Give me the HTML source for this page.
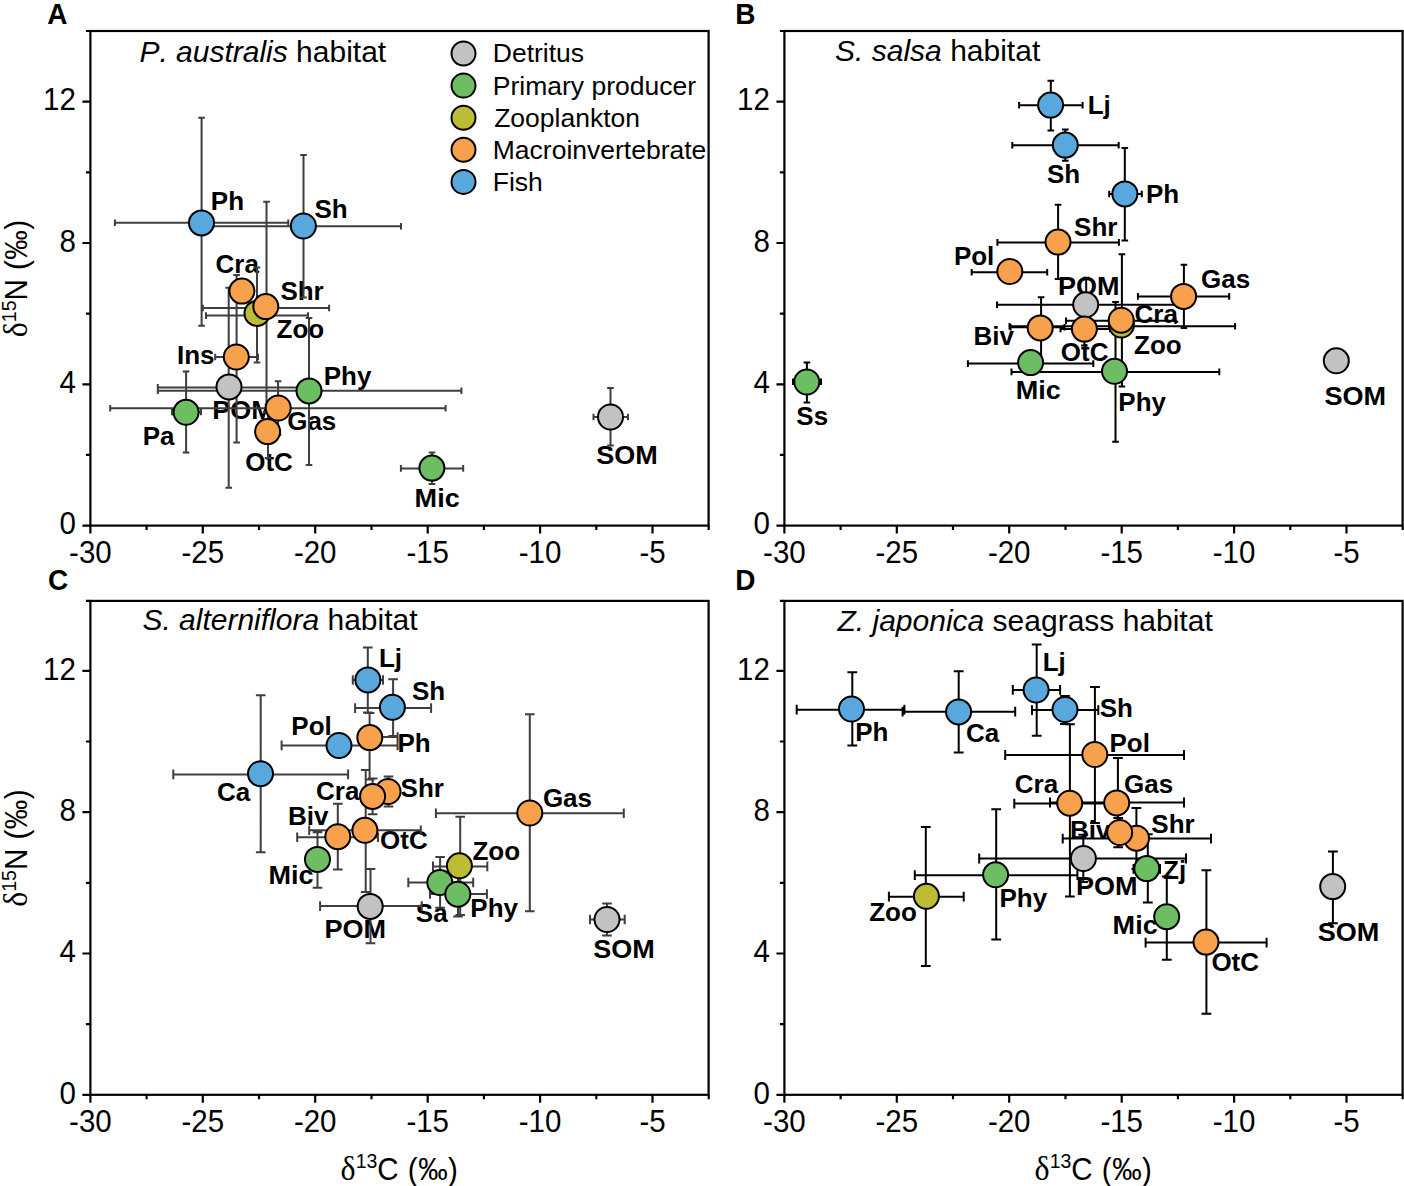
<!DOCTYPE html>
<html><head><meta charset="utf-8"><style>html,body{margin:0;padding:0;background:#fff;}svg{display:block;font-kerning:none;}</style></head>
<body>
<svg width="1404" height="1186" viewBox="0 0 1404 1186">
<rect width="100%" height="100%" fill="#fff"/>
<g stroke="#000" stroke-width="2.2" fill="none">
<rect x="90.4" y="31" width="618.2" height="494.6"/>
<path d="M90.4 525.6v8 M146.6 525.6v4.5 M202.8 525.6v8 M259 525.6v4.5 M315.2 525.6v8 M371.5 525.6v4.5 M427.7 525.6v8 M483.9 525.6v4.5 M540.1 525.6v8 M596.3 525.6v4.5 M652.5 525.6v8 M708.7 525.6v4.5 M90.4 525.6h-8 M90.4 454.9h-4.5 M90.4 384.3h-8 M90.4 313.6h-4.5 M90.4 243h-8 M90.4 172.3h-4.5 M90.4 101.6h-8 M90.4 31h-4.5"/>
</g>
<g font-family="Liberation Sans, sans-serif" font-size="29.5" fill="#000">
<text transform="translate(90.4,562.6) scale(1,1.055)" text-anchor="middle">-30</text>
<text transform="translate(202.8,562.6) scale(1,1.055)" text-anchor="middle">-25</text>
<text transform="translate(315.2,562.6) scale(1,1.055)" text-anchor="middle">-20</text>
<text transform="translate(427.7,562.6) scale(1,1.055)" text-anchor="middle">-15</text>
<text transform="translate(540.1,562.6) scale(1,1.055)" text-anchor="middle">-10</text>
<text transform="translate(652.5,562.6) scale(1,1.055)" text-anchor="middle">-5</text>
<text transform="translate(75.9,534.3) scale(1,1.055)" text-anchor="end">0</text>
<text transform="translate(75.9,393) scale(1,1.055)" text-anchor="end">4</text>
<text transform="translate(75.9,251.7) scale(1,1.055)" text-anchor="end">8</text>
<text transform="translate(75.9,110.3) scale(1,1.055)" text-anchor="end">12</text>
</g>
<text transform="translate(27,278.3) rotate(-90) scale(1,1.05)" text-anchor="middle" font-family="Liberation Sans" font-size="29.5"><tspan font-family="Liberation Serif" font-size="32">δ</tspan><tspan font-family="Liberation Sans" font-size="19.5" dy="-10.8">15</tspan><tspan font-family="Liberation Sans" dy="10.8" letter-spacing="0.5">N (‰)</tspan></text>
<text transform="translate(47.3,24) scale(1,1.06)" font-family="Liberation Sans, sans-serif" font-weight="bold" font-size="28">A</text>
<text x="139.4" y="62.1" font-family="Liberation Sans, sans-serif" font-size="30"><tspan font-style="italic">P. australis</tspan> habitat</text>
<g font-family="Liberation Sans, sans-serif" font-weight="bold" font-size="26" fill="#000">
<text x="210.8" y="209.9">Ph</text>
<text x="314.4" y="218">Sh</text>
<text x="215.5" y="273.3">Cra</text>
<text x="276.6" y="338.1">Zoo</text>
<text x="280.4" y="300.2">Shr</text>
<text x="177" y="363.7">Ins</text>
<text x="212.2" y="419.3" textLength="61.6" lengthAdjust="spacingAndGlyphs">POM</text>
<text x="323.7" y="385.3">Phy</text>
<text x="142.7" y="445.2">Pa</text>
<text x="245.2" y="470.6">OtC</text>
<text x="287.2" y="429.8">Gas</text>
<text x="414.6" y="507.4" textLength="45.1" lengthAdjust="spacingAndGlyphs">Mic</text>
<text x="596.3" y="463.9" textLength="61.6" lengthAdjust="spacingAndGlyphs">SOM</text>
</g>
<path d="M114.9 222.7H288.3M114.9 219.4v6.6M288.3 219.4v6.6 M201.6 117.8V325.8 M198.3 117.8h6.6 M198.3 325.8h6.6 M205.8 226.2H401M205.8 222.9v6.6M401 222.9v6.6 M303.5 155.1V297.4 M300.2 155.1h6.6 M300.2 297.4h6.6 M206 315.6H308M206 312.3v6.6M308 312.3v6.6 M257 267.6V362.5 M253.7 267.6h6.6 M253.7 362.5h6.6 M202.8 308H329.1M202.8 304.7v6.6M329.1 304.7v6.6 M266.5 201.8V412 M263.2 201.8h6.6 M263.2 412h6.6 M215.2 357H258M215.2 353.7v6.6M258 353.7v6.6 M236.6 275V442.4 M233.3 275h6.6 M233.3 442.4h6.6 M157.8 387.4H300M157.8 384.1v6.6M300 384.1v6.6 M228.7 287.8V487.8 M225.4 287.8h6.6 M225.4 487.8h6.6 M157.8 390.8H461.4M157.8 387.5v6.6M461.4 387.5v6.6 M309 318V464.9 M305.7 318h6.6 M305.7 464.9h6.6 M172 412H201M172 408.7v6.6M201 408.7v6.6 M186.1 371.5V452.6 M182.8 371.5h6.6 M182.8 452.6h6.6 M268 405V458 M264.7 405h6.6 M264.7 458h6.6 M110.2 408.2H445.6M110.2 404.9v6.6M445.6 404.9v6.6 M278.1 381.3V434.7 M274.8 381.3h6.6 M274.8 434.7h6.6 M400.9 468.4H463.2M400.9 465.1v6.6M463.2 465.1v6.6 M432 452.4V484 M428.7 452.4h6.6 M428.7 484h6.6 M593.5 417H628M593.5 413.7v6.6M628 413.7v6.6 M610.5 388V445.4 M607.2 388h6.6 M607.2 445.4h6.6" stroke="#3e3e3e" stroke-width="2" fill="none"/>
<g stroke="#000" stroke-width="2">
<circle cx="201.5" cy="222.9" r="12.5" fill="#58a8de"/>
<circle cx="303.4" cy="226" r="12.5" fill="#58a8de"/>
<circle cx="241.9" cy="291.1" r="12.5" fill="#f8a14c"/>
<circle cx="257" cy="313.4" r="12.5" fill="#bcbd34"/>
<circle cx="265.8" cy="306.6" r="12.5" fill="#f8a14c"/>
<circle cx="236.3" cy="357" r="12.5" fill="#f8a14c"/>
<circle cx="229" cy="386.9" r="12.5" fill="#c2c2c2"/>
<circle cx="309" cy="390.9" r="12.5" fill="#6dbd62"/>
<circle cx="186.1" cy="412.3" r="12.5" fill="#6dbd62"/>
<circle cx="267.6" cy="431.6" r="12.5" fill="#f8a14c"/>
<circle cx="278.2" cy="408" r="12.5" fill="#f8a14c"/>
<circle cx="431.9" cy="468.1" r="12.5" fill="#6dbd62"/>
<circle cx="610.5" cy="417" r="12.5" fill="#c2c2c2"/>
</g>
<g stroke="#000" stroke-width="2.2" fill="none">
<rect x="784.4" y="31" width="618.2" height="494.6"/>
<path d="M784.4 525.6v8 M840.6 525.6v4.5 M896.8 525.6v8 M953 525.6v4.5 M1009.2 525.6v8 M1065.5 525.6v4.5 M1121.7 525.6v8 M1177.9 525.6v4.5 M1234.1 525.6v8 M1290.3 525.6v4.5 M1346.5 525.6v8 M1402.7 525.6v4.5 M784.4 525.6h-8 M784.4 454.9h-4.5 M784.4 384.3h-8 M784.4 313.6h-4.5 M784.4 243h-8 M784.4 172.3h-4.5 M784.4 101.6h-8 M784.4 31h-4.5"/>
</g>
<g font-family="Liberation Sans, sans-serif" font-size="29.5" fill="#000">
<text transform="translate(784.4,562.6) scale(1,1.055)" text-anchor="middle">-30</text>
<text transform="translate(896.8,562.6) scale(1,1.055)" text-anchor="middle">-25</text>
<text transform="translate(1009.2,562.6) scale(1,1.055)" text-anchor="middle">-20</text>
<text transform="translate(1121.7,562.6) scale(1,1.055)" text-anchor="middle">-15</text>
<text transform="translate(1234.1,562.6) scale(1,1.055)" text-anchor="middle">-10</text>
<text transform="translate(1346.5,562.6) scale(1,1.055)" text-anchor="middle">-5</text>
<text transform="translate(769.9,534.3) scale(1,1.055)" text-anchor="end">0</text>
<text transform="translate(769.9,393) scale(1,1.055)" text-anchor="end">4</text>
<text transform="translate(769.9,251.7) scale(1,1.055)" text-anchor="end">8</text>
<text transform="translate(769.9,110.3) scale(1,1.055)" text-anchor="end">12</text>
</g>
<text transform="translate(735.3,24) scale(1,1.06)" font-family="Liberation Sans, sans-serif" font-weight="bold" font-size="28">B</text>
<text x="835.1" y="61.3" font-family="Liberation Sans, sans-serif" font-size="30"><tspan font-style="italic">S. salsa</tspan> habitat</text>
<g font-family="Liberation Sans, sans-serif" font-weight="bold" font-size="26" fill="#000">
<text x="1087.7" y="114.1">Lj</text>
<text x="1047" y="182.6">Sh</text>
<text x="1146" y="203">Ph</text>
<text x="1074.1" y="235.6">Shr</text>
<text x="953.9" y="265.2">Pol</text>
<text x="1058" y="295.3" textLength="61.6" lengthAdjust="spacingAndGlyphs">POM</text>
<text x="1201" y="288">Gas</text>
<text x="1134.1" y="354.1">Zoo</text>
<text x="1134.5" y="322.6">Cra</text>
<text x="973.6" y="345.4">Biv</text>
<text x="1060.8" y="361.4">OtC</text>
<text x="1015.8" y="398.5" textLength="45.1" lengthAdjust="spacingAndGlyphs">Mic</text>
<text x="1118.3" y="411">Phy</text>
<text x="796.3" y="424.5">Ss</text>
<text x="1324.5" y="404.5" textLength="61.6" lengthAdjust="spacingAndGlyphs">SOM</text>
</g>
<path d="M1019.1 105.3H1082.6M1019.1 102v6.6M1082.6 102v6.6 M1050.8 80.8V130.5 M1047.5 80.8h6.6 M1047.5 130.5h6.6 M1012.3 145.3H1118.7M1012.3 142v6.6M1118.7 142v6.6 M1065.3 129.5V160.8 M1062 129.5h6.6 M1062 160.8h6.6 M1109.2 194H1141.8M1109.2 190.7v6.6M1141.8 190.7v6.6 M1124.8 148V240.6 M1121.5 148h6.6 M1121.5 240.6h6.6 M997.4 242.4H1118.9M997.4 239.1v6.6M1118.9 239.1v6.6 M1058.1 204.8V278.9 M1054.8 204.8h6.6 M1054.8 278.9h6.6 M971.7 272.2H1047.2M971.7 268.9v6.6M1047.2 268.9v6.6 M997 304.8H1177M997 301.5v6.6M1177 301.5v6.6 M1086.2 277.7V331 M1082.9 277.7h6.6 M1082.9 331h6.6 M1137.9 296.4H1229.2M1137.9 293.1v6.6M1229.2 293.1v6.6 M1183.9 264.8V328 M1180.6 264.8h6.6 M1180.6 328h6.6 M1009.5 326.2H1235.1M1009.5 322.9v6.6M1235.1 322.9v6.6 M1066 320.8H1175.5M1066 317.5v6.6M1175.5 317.5v6.6 M1121.9 254.3V386.5 M1118.6 254.3h6.6 M1118.6 386.5h6.6 M1010.5 327.2H1064.5M1010.5 323.9v6.6M1064.5 323.9v6.6 M1041.1 297.2V360 M1037.8 297.2h6.6 M1060.5 329H1110M1060.5 325.7v6.6M1110 325.7v6.6 M1084.4 313V345.6 M1081.1 313h6.6 M1081.1 345.6h6.6 M967.9 363.6H1093.3M967.9 360.3v6.6M1093.3 360.3v6.6 M1011.5 371.9H1219.3M1011.5 368.6v6.6M1219.3 368.6v6.6 M1115.5 302V441.8 M1112.2 302h6.6 M1112.2 441.8h6.6 M793 381.8H821M793 378.5v6.6M821 378.5v6.6 M806.9 362.6V402.5 M803.6 362.6h6.6 M803.6 402.5h6.6" stroke="#000" stroke-width="2" fill="none"/>
<g stroke="#000" stroke-width="2">
<circle cx="1050.6" cy="105.1" r="12.5" fill="#58a8de"/>
<circle cx="1065.3" cy="145.1" r="12.5" fill="#58a8de"/>
<circle cx="1124.9" cy="193.9" r="12.5" fill="#58a8de"/>
<circle cx="1058" cy="242.1" r="12.5" fill="#f8a14c"/>
<circle cx="1009.8" cy="271.5" r="12.5" fill="#f8a14c"/>
<circle cx="1085.7" cy="304.8" r="12.5" fill="#c2c2c2"/>
<circle cx="1183.6" cy="296.4" r="12.5" fill="#f8a14c"/>
<circle cx="1121.4" cy="325" r="12.5" fill="#bcbd34"/>
<circle cx="1121.2" cy="320.2" r="12.5" fill="#f8a14c"/>
<circle cx="1040.2" cy="327.9" r="12.5" fill="#f8a14c"/>
<circle cx="1084.4" cy="329.1" r="12.5" fill="#f8a14c"/>
<circle cx="1030.6" cy="362.6" r="12.5" fill="#6dbd62"/>
<circle cx="1114.5" cy="371.3" r="12.5" fill="#6dbd62"/>
<circle cx="806.8" cy="382" r="12.5" fill="#6dbd62"/>
<circle cx="1336.3" cy="360.8" r="12.5" fill="#c2c2c2"/>
</g>
<g stroke="#000" stroke-width="2.2" fill="none">
<rect x="90.4" y="600.9" width="618.2" height="493.9"/>
<path d="M90.4 1094.8v8 M146.6 1094.8v4.5 M202.8 1094.8v8 M259 1094.8v4.5 M315.2 1094.8v8 M371.5 1094.8v4.5 M427.7 1094.8v8 M483.9 1094.8v4.5 M540.1 1094.8v8 M596.3 1094.8v4.5 M652.5 1094.8v8 M708.7 1094.8v4.5 M90.4 1094.8h-8 M90.4 1024.1h-4.5 M90.4 953.5h-8 M90.4 882.8h-4.5 M90.4 812.2h-8 M90.4 741.5h-4.5 M90.4 670.8h-8 M90.4 600.9h-4.5"/>
</g>
<g font-family="Liberation Sans, sans-serif" font-size="29.5" fill="#000">
<text transform="translate(90.4,1131.8) scale(1,1.055)" text-anchor="middle">-30</text>
<text transform="translate(202.8,1131.8) scale(1,1.055)" text-anchor="middle">-25</text>
<text transform="translate(315.2,1131.8) scale(1,1.055)" text-anchor="middle">-20</text>
<text transform="translate(427.7,1131.8) scale(1,1.055)" text-anchor="middle">-15</text>
<text transform="translate(540.1,1131.8) scale(1,1.055)" text-anchor="middle">-10</text>
<text transform="translate(652.5,1131.8) scale(1,1.055)" text-anchor="middle">-5</text>
<text transform="translate(75.9,1103.5) scale(1,1.055)" text-anchor="end">0</text>
<text transform="translate(75.9,962.2) scale(1,1.055)" text-anchor="end">4</text>
<text transform="translate(75.9,820.9) scale(1,1.055)" text-anchor="end">8</text>
<text transform="translate(75.9,679.5) scale(1,1.055)" text-anchor="end">12</text>
</g>
<text transform="translate(399.5,1179.6) scale(1,1.05)" text-anchor="middle" font-family="Liberation Sans" font-size="29.5"><tspan font-family="Liberation Serif" font-size="32">δ</tspan><tspan font-family="Liberation Sans" font-size="19.5" dy="-10.8">13</tspan><tspan font-family="Liberation Sans" dy="10.8" letter-spacing="0.5">C (‰)</tspan></text>
<text transform="translate(27,847.9) rotate(-90) scale(1,1.05)" text-anchor="middle" font-family="Liberation Sans" font-size="29.5"><tspan font-family="Liberation Serif" font-size="32">δ</tspan><tspan font-family="Liberation Sans" font-size="19.5" dy="-10.8">15</tspan><tspan font-family="Liberation Sans" dy="10.8" letter-spacing="0.5">N (‰)</tspan></text>
<text transform="translate(48,590.4) scale(1,1.06)" font-family="Liberation Sans, sans-serif" font-weight="bold" font-size="28">C</text>
<text x="142.4" y="630.1" font-family="Liberation Sans, sans-serif" font-size="30"><tspan font-style="italic">S. alterniflora</tspan> habitat</text>
<g font-family="Liberation Sans, sans-serif" font-weight="bold" font-size="26" fill="#000">
<text x="378.9" y="666.6">Lj</text>
<text x="412" y="700.2">Sh</text>
<text x="291.3" y="735">Pol</text>
<text x="397.4" y="752.4">Ph</text>
<text x="216.9" y="800.8">Ca</text>
<text x="400.6" y="796.8">Shr</text>
<text x="316" y="800.2">Cra</text>
<text x="288" y="825.2">Biv</text>
<text x="380.1" y="849.3">OtC</text>
<text x="268.4" y="883.5" textLength="45.1" lengthAdjust="spacingAndGlyphs">Mic</text>
<text x="324.4" y="937.8" textLength="61.6" lengthAdjust="spacingAndGlyphs">POM</text>
<text x="542.9" y="807.4">Gas</text>
<text x="415.8" y="922">Sa</text>
<text x="470.3" y="917.2">Phy</text>
<text x="472.4" y="860">Zoo</text>
<text x="593.3" y="957.7" textLength="61.6" lengthAdjust="spacingAndGlyphs">SOM</text>
</g>
<path d="M352.8 680H383M352.8 675.2v9.6M383 675.2v9.6 M367.8 647.5V712.5 M363 647.5h9.6 M363 712.5h9.6 M355.1 708.1H431.1M355.1 703.3v9.6M431.1 703.3v9.6 M393.1 679.2V735.9 M388.3 679.2h9.6 M388.3 735.9h9.6 M281.6 745.4H397.6M281.6 740.6v9.6M397.6 740.6v9.6 M358 737.1H397.6M358 732.3v9.6M397.6 732.3v9.6 M369.6 713V779.4 M364.8 713h9.6 M364.8 779.4h9.6 M173.3 774.4H348.1M173.3 769.6v9.6M348.1 769.6v9.6 M260.7 695.3V852.3 M255.9 695.3h9.6 M255.9 852.3h9.6 M388.5 776.6V806.4 M383.7 776.6h9.6 M383.7 806.4h9.6 M372.6 778.5V814.3 M367.8 778.5h9.6 M367.8 814.3h9.6 M297.2 837.3H378M297.2 832.5v9.6M378 832.5v9.6 M337.8 803.7V869.5 M333 803.7h9.6 M333 869.5h9.6 M309.2 830.2H420.8M309.2 825.4v9.6M420.8 825.4v9.6 M365.7 770V892 M360.9 770h9.6 M360.9 892h9.6 M317.5 832.3V887.8 M312.7 832.3h9.6 M312.7 887.8h9.6 M320.1 906.1H421.7M320.1 901.3v9.6M421.7 901.3v9.6 M370.5 869V943.3 M365.7 869h9.6 M365.7 943.3h9.6 M435.9 813.3H623.8M435.9 808.5v9.6M623.8 808.5v9.6 M529.8 714.2V911.3 M525 714.2h9.6 M525 911.3h9.6 M408.3 882.5H473.2M408.3 877.7v9.6M473.2 877.7v9.6 M440.1 857V907.7 M435.3 857h9.6 M435.3 907.7h9.6 M430 894H486.9M430 889.2v9.6M486.9 889.2v9.6 M458 872V916.5 M453.2 872h9.6 M453.2 916.5h9.6 M433 866.4H487.3M433 861.6v9.6M487.3 861.6v9.6 M460.2 816.8V915 M455.4 816.8h9.6 M455.4 915h9.6 M590 919.5H624.7M590 914.7v9.6M624.7 914.7v9.6 M607 903.5V935.6 M602.2 903.5h9.6 M602.2 935.6h9.6" stroke="#3e3e3e" stroke-width="2" fill="none"/>
<g stroke="#000" stroke-width="2">
<circle cx="367.9" cy="679.9" r="12.5" fill="#58a8de"/>
<circle cx="392.4" cy="707.3" r="12.5" fill="#58a8de"/>
<circle cx="339" cy="745.5" r="12.5" fill="#58a8de"/>
<circle cx="369.8" cy="737.6" r="12.5" fill="#f8a14c"/>
<circle cx="260.5" cy="773.7" r="12.5" fill="#58a8de"/>
<circle cx="388" cy="791.5" r="12.5" fill="#f8a14c"/>
<circle cx="372.6" cy="796.4" r="12.5" fill="#f8a14c"/>
<circle cx="337.8" cy="836.7" r="12.5" fill="#f8a14c"/>
<circle cx="364.9" cy="830.3" r="12.5" fill="#f8a14c"/>
<circle cx="317.5" cy="859.4" r="12.5" fill="#6dbd62"/>
<circle cx="370.2" cy="906.4" r="12.5" fill="#c2c2c2"/>
<circle cx="529.8" cy="813" r="12.5" fill="#f8a14c"/>
<circle cx="439.8" cy="882.5" r="12.5" fill="#6dbd62"/>
<circle cx="457.8" cy="894.2" r="12.5" fill="#6dbd62"/>
<circle cx="459.4" cy="865.8" r="12.5" fill="#bcbd34"/>
<circle cx="607" cy="919.5" r="12.5" fill="#c2c2c2"/>
</g>
<g stroke="#000" stroke-width="2.2" fill="none">
<rect x="784.4" y="600.9" width="618.2" height="493.9"/>
<path d="M784.4 1094.8v8 M840.6 1094.8v4.5 M896.8 1094.8v8 M953 1094.8v4.5 M1009.2 1094.8v8 M1065.5 1094.8v4.5 M1121.7 1094.8v8 M1177.9 1094.8v4.5 M1234.1 1094.8v8 M1290.3 1094.8v4.5 M1346.5 1094.8v8 M1402.7 1094.8v4.5 M784.4 1094.8h-8 M784.4 1024.1h-4.5 M784.4 953.5h-8 M784.4 882.8h-4.5 M784.4 812.2h-8 M784.4 741.5h-4.5 M784.4 670.8h-8 M784.4 600.9h-4.5"/>
</g>
<g font-family="Liberation Sans, sans-serif" font-size="29.5" fill="#000">
<text transform="translate(784.4,1131.8) scale(1,1.055)" text-anchor="middle">-30</text>
<text transform="translate(896.8,1131.8) scale(1,1.055)" text-anchor="middle">-25</text>
<text transform="translate(1009.2,1131.8) scale(1,1.055)" text-anchor="middle">-20</text>
<text transform="translate(1121.7,1131.8) scale(1,1.055)" text-anchor="middle">-15</text>
<text transform="translate(1234.1,1131.8) scale(1,1.055)" text-anchor="middle">-10</text>
<text transform="translate(1346.5,1131.8) scale(1,1.055)" text-anchor="middle">-5</text>
<text transform="translate(769.9,1103.5) scale(1,1.055)" text-anchor="end">0</text>
<text transform="translate(769.9,962.2) scale(1,1.055)" text-anchor="end">4</text>
<text transform="translate(769.9,820.9) scale(1,1.055)" text-anchor="end">8</text>
<text transform="translate(769.9,679.5) scale(1,1.055)" text-anchor="end">12</text>
</g>
<text transform="translate(1093.5,1179.6) scale(1,1.05)" text-anchor="middle" font-family="Liberation Sans" font-size="29.5"><tspan font-family="Liberation Serif" font-size="32">δ</tspan><tspan font-family="Liberation Sans" font-size="19.5" dy="-10.8">13</tspan><tspan font-family="Liberation Sans" dy="10.8" letter-spacing="0.5">C (‰)</tspan></text>
<text transform="translate(735.2,590.2) scale(1,1.06)" font-family="Liberation Sans, sans-serif" font-weight="bold" font-size="28">D</text>
<text x="837.5" y="631.3" font-family="Liberation Sans, sans-serif" font-size="30"><tspan font-style="italic">Z. japonica</tspan> seagrass habitat</text>
<g font-family="Liberation Sans, sans-serif" font-weight="bold" font-size="26" fill="#000">
<text x="855.2" y="740.5">Ph</text>
<text x="966.1" y="741.5">Ca</text>
<text x="1042.7" y="670.6">Lj</text>
<text x="1099.7" y="716.9">Sh</text>
<text x="1109.5" y="751.8">Pol</text>
<text x="1014.8" y="792.8">Cra</text>
<text x="1124.1" y="793.4">Gas</text>
<text x="1151.3" y="833.3">Shr</text>
<text x="1070.1" y="838.7">Biv</text>
<text x="1075.9" y="894.6" textLength="61.6" lengthAdjust="spacingAndGlyphs">POM</text>
<text x="1163" y="878.8">Zj</text>
<text x="999.5" y="906.7">Phy</text>
<text x="869.2" y="920.6">Zoo</text>
<text x="1112.6" y="934.3" textLength="45.1" lengthAdjust="spacingAndGlyphs">Mic</text>
<text x="1211.4" y="971.2">OtC</text>
<text x="1317.8" y="941.4" textLength="61.6" lengthAdjust="spacingAndGlyphs">SOM</text>
</g>
<path d="M796.7 709.7H904.4M796.7 704.8v9.8M904.4 704.8v9.8 M852.3 672.3V745.6 M847.4 672.3h9.8 M847.4 745.6h9.8 M902.6 711.7H1015.2M902.6 706.8v9.8M1015.2 706.8v9.8 M958.7 671.3V752.6 M953.8 671.3h9.8 M953.8 752.6h9.8 M1012.8 689.9H1060.1M1012.8 685v9.8M1060.1 685v9.8 M1036.7 644.6V735.7 M1031.8 644.6h9.8 M1031.8 735.7h9.8 M1032 710.1H1098.3M1032 705.2v9.8M1098.3 705.2v9.8 M1065 696V724 M1060.1 696h9.8 M1060.1 724h9.8 M1005.2 755H1184M1005.2 750.1v9.8M1184 750.1v9.8 M1094.9 686.9V823 M1090 686.9h9.8 M1090 823h9.8 M1014.3 803.6H1125M1014.3 798.7v9.8M1125 798.7v9.8 M1069.9 724.2V896.4 M1065 724.2h9.8 M1065 896.4h9.8 M1050 802.5H1184M1050 797.6v9.8M1184 797.6v9.8 M1117.9 758V830 M1113 758h9.8 M1113 830h9.8 M1062.7 838.6H1211M1062.7 833.7v9.8M1211 833.7v9.8 M1136.4 807.9V869 M1131.5 807.9h9.8 M1131.5 869h9.8 M1118.2 818V847.2 M1113.3 818h9.8 M1113.3 847.2h9.8 M979.2 858.5H1186M979.2 853.6v9.8M1186 853.6v9.8 M1083.3 834.7V882 M1078.4 834.7h9.8 M1078.4 882h9.8 M1133.5 868.9H1160M1133.5 864v9.8M1160 864v9.8 M1147.8 834.3V902.4 M1142.9 834.3h9.8 M1142.9 902.4h9.8 M914.8 875.2H1077.4M914.8 870.3v9.8M1077.4 870.3v9.8 M996.2 809.3V939.6 M991.3 809.3h9.8 M991.3 939.6h9.8 M888.9 896.7H963.7M888.9 891.8v9.8M963.7 891.8v9.8 M925.8 826.9V965.9 M920.9 826.9h9.8 M920.9 965.9h9.8 M1166.8 876.4V959.8 M1161.9 876.4h9.8 M1161.9 959.8h9.8 M1145.6 942.6H1266.6M1145.6 937.7v9.8M1266.6 937.7v9.8 M1206.4 870.2V1013.7 M1201.5 870.2h9.8 M1201.5 1013.7h9.8 M1332.9 851.6V923.2 M1328 851.6h9.8 M1328 923.2h9.8" stroke="#000" stroke-width="2" fill="none"/>
<g stroke="#000" stroke-width="2">
<circle cx="851.5" cy="709" r="12.5" fill="#58a8de"/>
<circle cx="958.6" cy="711.9" r="12.5" fill="#58a8de"/>
<circle cx="1036.1" cy="690" r="12.5" fill="#58a8de"/>
<circle cx="1065" cy="709.5" r="12.5" fill="#58a8de"/>
<circle cx="1094.8" cy="754.5" r="12.5" fill="#f8a14c"/>
<circle cx="1069.7" cy="803.2" r="12.5" fill="#f8a14c"/>
<circle cx="1116.7" cy="802.9" r="12.5" fill="#f8a14c"/>
<circle cx="1136.5" cy="838.2" r="12.5" fill="#f8a14c"/>
<circle cx="1119.7" cy="832.5" r="12.5" fill="#f8a14c"/>
<circle cx="1083.4" cy="858.5" r="12.5" fill="#c2c2c2"/>
<circle cx="1146.8" cy="868.6" r="12.5" fill="#6dbd62"/>
<circle cx="995.6" cy="874.8" r="12.5" fill="#6dbd62"/>
<circle cx="926.4" cy="896.3" r="12.5" fill="#bcbd34"/>
<circle cx="1166.7" cy="916.7" r="12.5" fill="#6dbd62"/>
<circle cx="1206" cy="942.1" r="12.5" fill="#f8a14c"/>
<circle cx="1332.7" cy="886.6" r="12.5" fill="#c2c2c2"/>
</g>
<g stroke="#000" stroke-width="2">
<circle cx="463.5" cy="53.5" r="12" fill="#c2c2c2"/>
<circle cx="463.5" cy="85.6" r="12" fill="#6dbd62"/>
<circle cx="463.5" cy="117.7" r="12" fill="#bcbd34"/>
<circle cx="463.5" cy="149.8" r="12" fill="#f8a14c"/>
<circle cx="463.5" cy="181.9" r="12" fill="#58a8de"/>
</g>
<g font-family="Liberation Sans, sans-serif" font-size="26.5" fill="#000">
<text x="492.8" y="62.4">Detritus</text>
<text x="492.8" y="94.5">Primary producer</text>
<text x="494.2" y="126.6">Zooplankton</text>
<text x="492.8" y="158.7">Macroinvertebrate</text>
<text x="492.8" y="190.8">Fish</text>
</g>
</svg>
</body></html>
